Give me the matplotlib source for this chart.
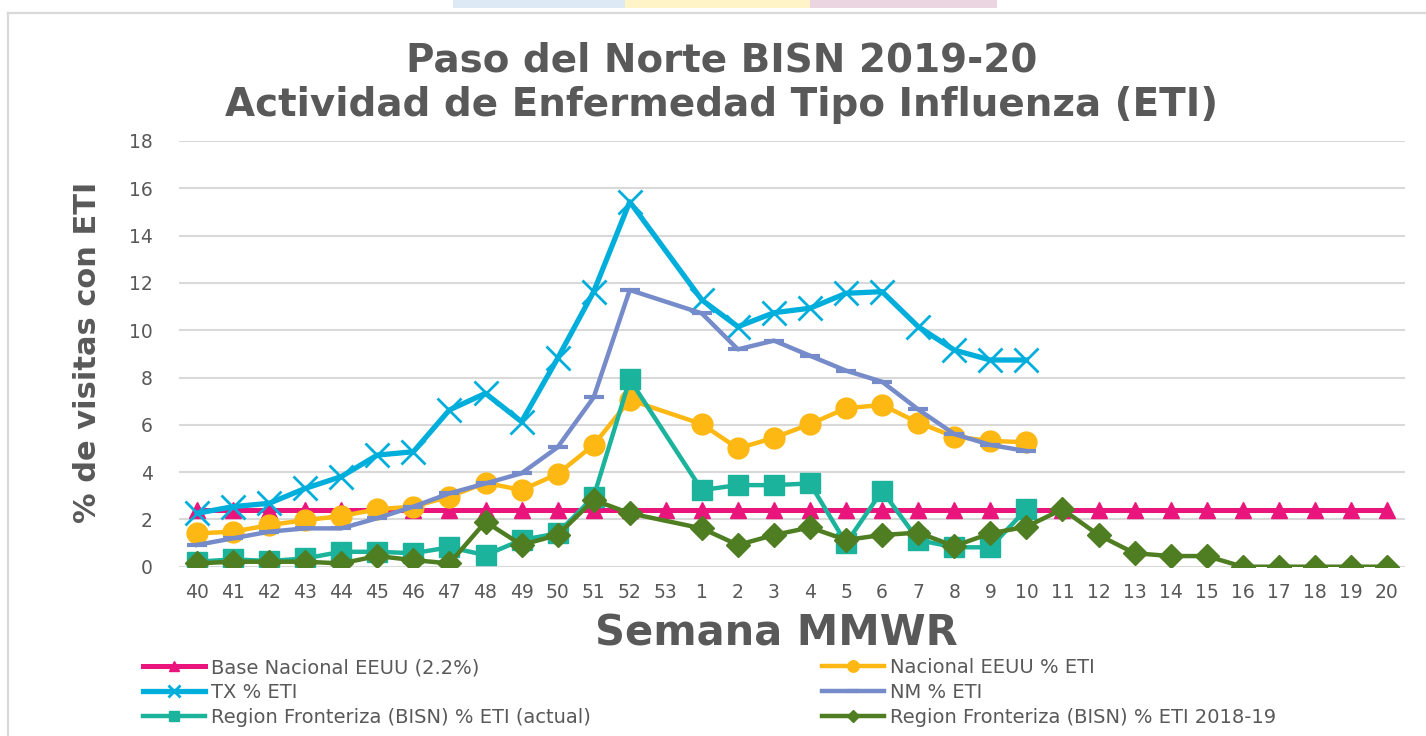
import numpy as np
import matplotlib
matplotlib.use("Agg")
import matplotlib.pyplot as plt
from matplotlib.lines import Line2D
from matplotlib.patches import Rectangle

nan = np.nan
weeks = ['40', '41', '42', '43', '44', '45', '46', '47', '48', '49', '50', '51', '52', '53',
         '1', '2', '3', '4', '5', '6', '7', '8', '9', '10',
         '11', '12', '13', '14', '15', '16', '17', '18', '19', '20']

base_nacional = [2.4] * 34
nacional = [1.41, 1.48, 1.76, 1.97, 2.14, 2.43, 2.54, 2.96, 3.55, 3.24, 3.92, 5.15, 7.05, nan,
            6.03, 5.0, 5.45, 6.03, 6.7, 6.84, 6.09, 5.5, 5.32, 5.26] + [nan] * 10
tx = [2.26, 2.54, 2.68, 3.31, 3.81, 4.72, 4.86, 6.63, 7.33, 6.13, 8.81, 11.63, 15.43, nan,
      11.28, 10.15, 10.74, 10.93, 11.56, 11.63, 10.15, 9.16, 8.74, 8.74] + [nan] * 10
nm = [0.92, 1.2, 1.48, 1.62, 1.62, 2.05, 2.54, 3.1, 3.52, 3.95, 5.05, 7.16, 11.7, nan,
      10.71, 9.19, 9.56, 8.92, 8.29, 7.82, 6.65, 5.61, 5.15, 4.89] + [nan] * 10
bisn_actual = [0.21, 0.31, 0.24, 0.35, 0.63, 0.63, 0.57, 0.82, 0.49, 1.13, 1.41, 2.96, 7.92, nan,
               3.24, 3.45, 3.45, 3.52, 0.99, 3.21, 1.13, 0.82, 0.82, 2.43] + [nan] * 10
bisn_1819 = [0.14, 0.21, 0.21, 0.21, 0.14, 0.45, 0.28, 0.14, 1.9, 0.92, 1.34, 2.82, 2.26, nan,
             1.62, 0.92, 1.34, 1.66, 1.13, 1.34, 1.44, 0.87, 1.41, 1.69,
             2.43, 1.34, 0.57, 0.45, 0.45, 0.0, 0.0, 0.0, 0.0, 0.0]

labels = ['Base Nacional EEUU (2.2%)', 'Nacional EEUU % ETI', 'TX % ETI', 'NM % ETI',
          'Region Fronteriza (BISN) % ETI (actual)', 'Region Fronteriza (BISN) % ETI 2018-19']

W, H = 1426, 736
fig = plt.figure(figsize=(W / 100, H / 100), dpi=100)
fig.patch.set_facecolor('white')

# decorative frame and top strip
fig.add_artist(Line2D([8 / W, 1], [1 - 13 / H, 1 - 13 / H], color='#d9d9d9', lw=1.6,
                      transform=fig.transFigure))
fig.add_artist(Line2D([8 / W, 8 / W], [0, 1 - 13 / H], color='#d9d9d9', lw=1.6,
                      transform=fig.transFigure))
for x0, x1, c in [(453, 625, '#dde9f5'), (625, 810, '#fff3c8'), (810, 997, '#ead5e0')]:
    fig.add_artist(Rectangle((x0 / W, 1 - 8 / H), (x1 - x0) / W, 8 / H, color=c,
                             transform=fig.transFigure, lw=0))

left, right = 179 / W, 1405 / W
bottom, top = 1 - 566.7 / H, 1 - 141 / H
ax = fig.add_axes([left, bottom, right - left, top - bottom])

x = np.arange(len(weeks))
gray = '#595959'

styles = [
    dict(color='#E9157D', marker='^', ms=12, lw=3.6),
    dict(color='#FDB813', marker='o', ms=15, lw=3.2),
    dict(color='#00AEDB', marker='x', ms=17, mew=2, lw=3.8),
    dict(color='#768BC9', marker='_', ms=15, mew=3, lw=3.2),
    dict(color='#1CB39C', marker='s', ms=14, lw=3.2),
    dict(color='#4E7E21', marker='D', ms=12, lw=3.2),
]
series = [base_nacional, nacional, tx, nm, bisn_actual, bisn_1819]
handles = []
for vals, st, lab in zip(series, styles, labels):
    v = np.array(vals, dtype=float)
    m = ~np.isnan(v)
    ln, = ax.plot(x[m], v[m], label=lab, solid_joinstyle='round', **st)
    handles.append(ln)

ax.set_xlim(-0.5, len(weeks) - 0.5)
ax.set_ylim(0, 18)
ax.set_yticks(np.arange(0, 19, 2))
ax.set_xticks(x)
ax.set_xticklabels(weeks)
ax.tick_params(axis='both', length=0, labelsize=13.5, colors=gray)
ax.tick_params(axis='y', pad=19)
ax.tick_params(axis='x', pad=12)
ax.grid(axis='y', color='#d9d9d9', lw=1.5)
ax.set_axisbelow(True)
for s in ax.spines.values():
    s.set_visible(False)

# titles
fig.text(722 / W, 1 - 72 / H, 'Paso del Norte BISN 2019-20', ha='center', va='baseline',
         fontsize=28, fontweight='bold', color=gray)
fig.text(722 / W, 1 - 116 / H, 'Actividad de Enfermedad Tipo Influenza (ETI)', ha='center',
         va='baseline', fontsize=28, fontweight='bold', color=gray)
fig.text(88 / W, 1 - 352 / H, '% de visitas con ETI', rotation=90, ha='center', va='center',
         fontsize=22, fontweight='bold', color=gray)
fig.text(776 / W, 1 - 645 / H, 'Semana MMWR', ha='center', va='baseline',
         fontsize=30, fontweight='bold', color=gray)

leg_kw = dict(loc='upper left', frameon=False, fontsize=14, labelcolor=gray, borderpad=0,
              borderaxespad=0, handlelength=3.2, handletextpad=0.3, labelspacing=0.3,
              numpoints=1, markerscale=0.55)
order_l = [0, 2, 4]
order_r = [1, 3, 5]
l1 = fig.legend([handles[i] for i in order_l], [labels[i] for i in order_l],
                bbox_to_anchor=(143 / W, 1 - 658 / H), **leg_kw)
l2 = fig.legend([handles[i] for i in order_r], [labels[i] for i in order_r],
                bbox_to_anchor=(822 / W, 1 - 658 / H), **leg_kw)

fig.savefig('out.png', dpi=100, facecolor='white')
